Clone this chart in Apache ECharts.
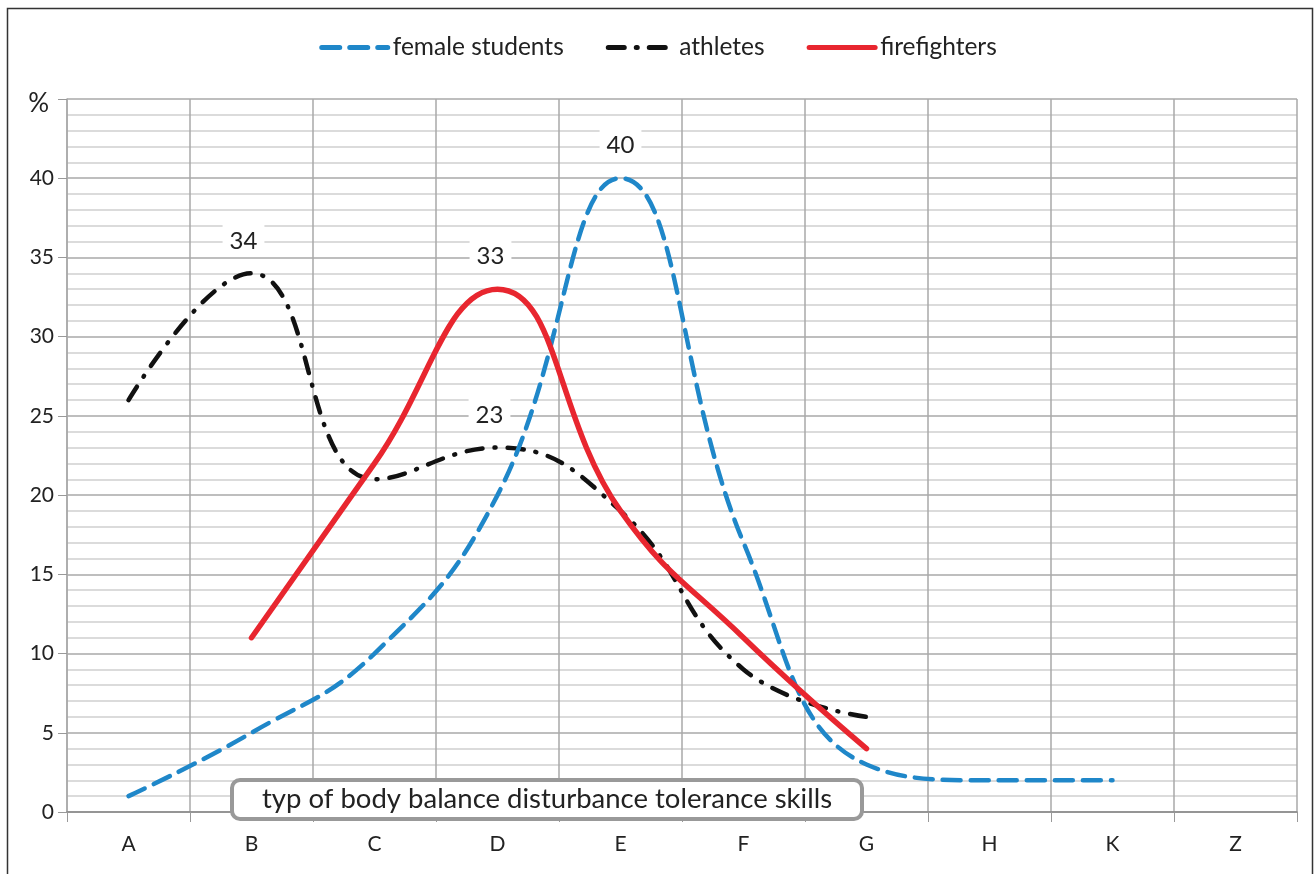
<!DOCTYPE html>
<html>
<head>
<meta charset="utf-8">
<script src="https://cdn.jsdelivr.net/npm/echarts@6/dist/echarts.min.js"></script>
<style>
html,body{margin:0;padding:0;background:#fff;}
#chart{width:1316px;height:874px;}
</style>
</head>
<body>
<div id="chart"></div>
<script>
const categories = ['A','B','C','D','E','F','G','H','K','Z'];
const femaleStudents = [1, 5, 10, 20, 40, 17, 3, 2, 2, null];
const athletes = [26, 34, 21, 23, 19, 9, 6, null, null, null];
const firefighters = [null, 11, 22, 33, 19, 11, 4, null, null, null];
const yTicks = [0, 5, 10, 15, 20, 25, 30, 35, 40, 45];
// indices of points that carry a value label
const femaleLabelled = [4];
const athletesLabelled = [1, 3];
const firefightersLabelled = [3];

const FONT = 'Lato';
function labelStyle(dx) {
  return {
    show: true, position: 'top', distance: 16, offset: [dx, 0],
    backgroundColor: '#fff', padding: [4, 7], opacity: 1,
    fontSize: 24, color: '#222', fontFamily: FONT
  };
}
function build(values, labelled, dx) {
  return values.map((v, i) => labelled.includes(i) ? { value: v, label: labelStyle(dx) } : v);
}

const chart = echarts.init(document.getElementById('chart'));
chart.setOption({
  animation: false,
  backgroundColor: '#fff',
  textStyle: { fontFamily: FONT },
  graphic: [{
    type: 'rect', silent: true,
    shape: { x: 7.5, y: 8.5, width: 1305, height: 880 },
    style: { fill: 'none', stroke: '#333', lineWidth: 1.5 }
  }],
  title: {
    text: 'typ of body balance disturbance tolerance skills',
    left: 232, top: 780,
    padding: [4, 30, 4, 30],
    borderColor: '#999', borderWidth: 4, borderRadius: 8,
    backgroundColor: '#fff',
    textStyle: { fontSize: 27.5, fontWeight: 'normal', color: '#222', fontFamily: FONT, lineHeight: 31 }
  },
  legend: {
    top: 30, left: 'center',
    itemWidth: 66, itemHeight: 14, itemGap: 42,
    itemStyle: { color: 'transparent', opacity: 0 },
    lineStyle: { width: 5 },
    textStyle: { fontSize: 24.5, color: '#222', fontFamily: FONT },
    data: ['female students', 'athletes', 'firefighters']
  },
  grid: { left: 67, right: 19, top: 99, bottom: 62 },
  xAxis: {
    type: 'category', data: categories, boundaryGap: true,
    axisLine: { lineStyle: { color: '#888', width: 1.5 } },
    axisTick: { show: true, length: 10, lineStyle: { color: '#999' } },
    axisLabel: { fontSize: 21, color: '#222', margin: 22, fontFamily: FONT },
    splitLine: { show: true, lineStyle: { color: '#a8a8a8', width: 1.5 } }
  },
  yAxis: {
    type: 'value', min: yTicks[0], max: yTicks[yTicks.length - 1], interval: 5,
    axisLine: { show: true, lineStyle: { color: '#a8a8a8', width: 1.5 } },
    axisTick: { show: true, length: 9, lineStyle: { color: '#999' } },
    axisLabel: {
      fontSize: 21, color: '#222', margin: 13, fontFamily: FONT,
      formatter: v => v === 45 ? '{p|%}' : String(v),
      rich: { p: { fontSize: 26, color: '#222', fontFamily: FONT, padding: [10, 5, 0, 0] } }
    },
    splitLine: { show: true, lineStyle: { color: '#a8a8a8', width: 1.5 } },
    minorTick: { show: false, splitNumber: 5 },
    minorSplitLine: { show: true, lineStyle: { color: '#d0d0d0', width: 1.5 } }
  },
  series: [
    {
      name: 'female students', type: 'line', smooth: 0.45,
      symbol: 'circle', symbolSize: 1, showAllSymbol: true,
      data: build(femaleStudents, femaleLabelled, 0), z: 3,
      lineStyle: { color: '#1f87c9', width: 4.5, type: [18, 10], cap: 'round' },
      itemStyle: { color: 'transparent' }
    },
    {
      name: 'athletes', type: 'line', smooth: 0.45,
      symbol: 'circle', symbolSize: 1, showAllSymbol: true,
      data: build(athletes, athletesLabelled, -8), z: 2,
      lineStyle: { color: '#111', width: 4.5, type: [16, 12, 1, 12], cap: 'round' },
      itemStyle: { color: 'transparent' }
    },
    {
      name: 'firefighters', type: 'line', smooth: 0.45,
      symbol: 'circle', symbolSize: 1, showAllSymbol: true,
      data: build(firefighters, firefightersLabelled, -7), z: 4,
      lineStyle: { color: '#e8262f', width: 5.5, cap: 'round' },
      itemStyle: { color: 'transparent' }
    }
  ]
});
</script>
</body>
</html>
